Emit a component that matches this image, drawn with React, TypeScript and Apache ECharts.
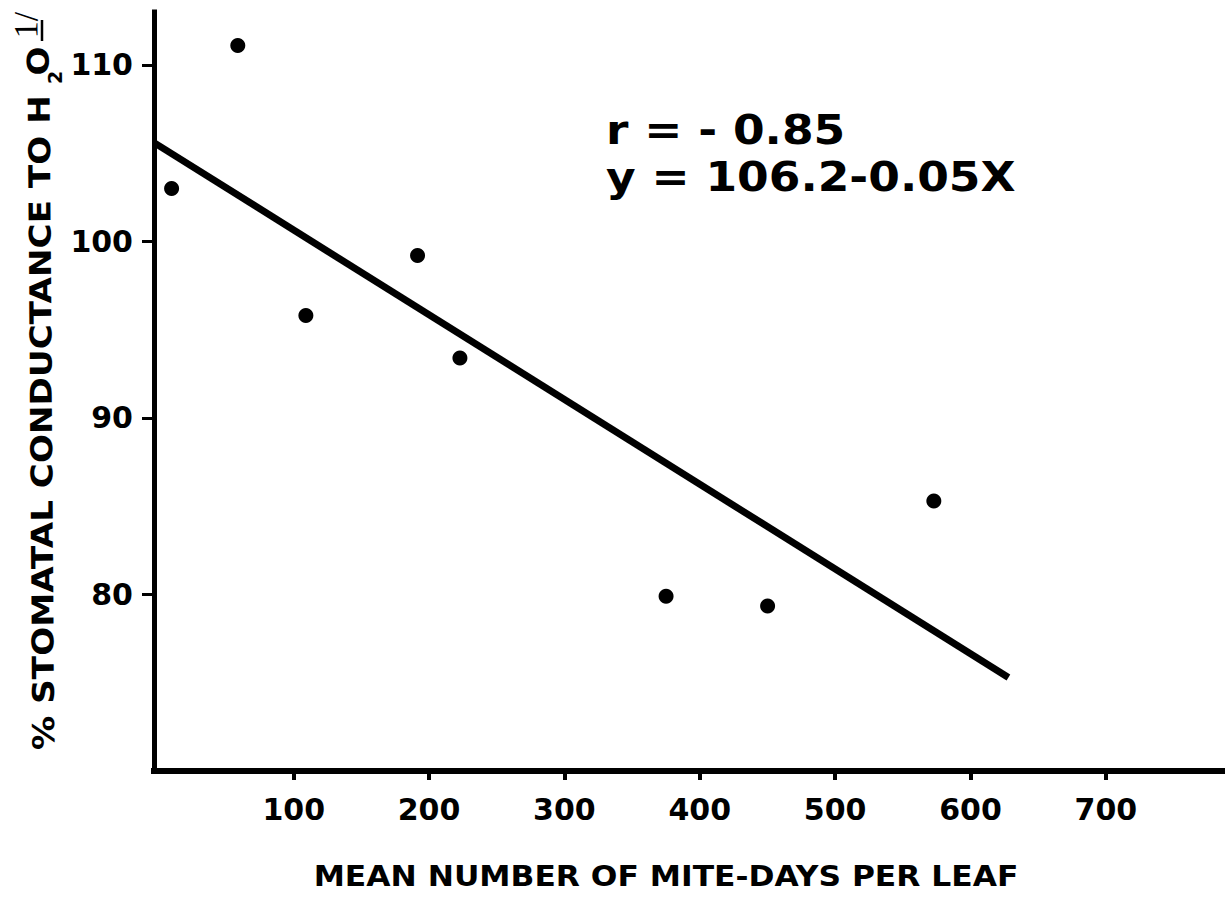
import React, { useEffect, useRef } from "react";
import * as echarts from "echarts";

// ---- data ----
const xTickValues = [100, 200, 300, 400, 500, 600, 700];
const yTickValues = [80, 90, 100, 110];
const miteDays = [9.8, 58.7, 109, 191.5, 222.8, 375.1, 450.1, 572.9];
const conductance = [103.0, 111.1, 95.8, 99.2, 93.4, 79.9, 79.35, 85.3];
const fitX = [-3.2, 628];
const fitY = [105.6, 75.3];
const xTitle = "MEAN NUMBER OF MITE-DAYS PER LEAF";
const yTitleMain = "% STOMATAL CONDUCTANCE TO H";
const yTitleSub = "2";
const yTitleEnd = "O";
const yTitleNote = "1/";
const statR = "r = - 0.85";
const statEq = "y = 106.2-0.05X";

const FONT = '"DejaVu Sans", "Liberation Sans", sans-serif';

function measure(text: string, font: string): number {
  const c = document.createElement("canvas").getContext("2d");
  if (!c) return text.length * 20;
  c.font = font;
  return c.measureText(text).width;
}

export default function App() {
  const ref = useRef<HTMLDivElement>(null);

  useEffect(() => {
    if (!ref.current) return;
    const chart = echarts.init(ref.current, null, { renderer: "svg" });

    const yFont = `bold 30px ${FONT}`;
    const sY = 655 / measure(yTitleMain, yFont);
    const xFont = `bold 29px ${FONT}`;
    const sX = 705 / measure(xTitle, xFont);
    const rot = Math.PI / 2 + 0.0069;

    const scatterData = miteDays.map((x, i) => [x, conductance[i]]);
    const fitData = fitX.map((x, i) => [x, fitY[i]]);

    const labelStyle = {
      fontSize: 30,
      fontWeight: "bold" as const,
      fontFamily: FONT,
      color: "#000",
    };

    chart.setOption({
      animation: false,
      backgroundColor: "#fff",
      grid: { left: 154, right: 0, top: 12, bottom: 127 },
      xAxis: {
        type: "value",
        min: -3.2,
        max: 788,
        axisLine: {
          onZero: false,
          lineStyle: { color: "#000", width: 6, cap: "square" },
        },
        axisTick: {
          customValues: xTickValues,
          length: 9,
          lineStyle: { color: "#000", width: 4 },
        },
        axisLabel: { customValues: xTickValues, margin: 23, ...labelStyle },
        splitLine: { show: false },
      },
      yAxis: {
        type: "value",
        min: 70,
        max: 113,
        axisLine: {
          show: true,
          onZero: false,
          lineStyle: { color: "#000", width: 5, cap: "square" },
        },
        axisTick: {
          show: true,
          customValues: yTickValues,
          length: 12,
          lineStyle: { color: "#000", width: 3 },
        },
        axisLabel: { customValues: yTickValues, margin: 21, ...labelStyle },
        splitLine: { show: false },
      },
      series: [
        {
          type: "line",
          data: fitData,
          symbol: "none",
          lineStyle: { color: "#000", width: 7 },
          z: 2,
        },
        {
          type: "scatter",
          data: scatterData,
          symbol: "circle",
          symbolSize: 15,
          itemStyle: { color: "#000", opacity: 1 },
          z: 3,
        },
      ],
      graphic: [
        {
          type: "text",
          x: 44,
          y: 750,
          rotation: rot,
          scaleX: sY,
          style: {
            text: yTitleMain,
            font: yFont,
            fill: "#000",
            align: "left",
            verticalAlign: "middle",
          },
        },
        {
          type: "text",
          x: 55,
          y: 77.5,
          rotation: rot,
          style: {
            text: yTitleSub,
            font: `bold 19px ${FONT}`,
            fill: "#000",
            align: "center",
            verticalAlign: "middle",
          },
        },
        {
          type: "text",
          x: 38.5,
          y: 61,
          rotation: rot,
          scaleX: sY,
          style: {
            text: yTitleEnd,
            font: yFont,
            fill: "#000",
            align: "center",
            verticalAlign: "middle",
          },
        },
        {
          type: "text",
          x: 26,
          y: 25,
          rotation: rot,
          style: {
            text: yTitleNote,
            font: '34px "Liberation Serif", serif',
            fill: "#000",
            align: "center",
            verticalAlign: "middle",
          },
        },
        {
          type: "line",
          shape: { x1: 42, y1: 20, x2: 42, y2: 41 },
          style: { stroke: "#000", lineWidth: 2.5 },
        },
        {
          type: "text",
          x: 666,
          y: 876,
          scaleX: sX,
          style: {
            text: xTitle,
            font: xFont,
            fill: "#000",
            align: "center",
            verticalAlign: "middle",
          },
        },
        {
          type: "text",
          x: 606,
          y: 130,
          scaleX: 1.11,
          style: {
            text: statR,
            font: `bold 41px ${FONT}`,
            fill: "#000",
            align: "left",
            verticalAlign: "middle",
          },
        },
        {
          type: "text",
          x: 606,
          y: 177,
          scaleX: 1.11,
          style: {
            text: statEq,
            font: `bold 41px ${FONT}`,
            fill: "#000",
            align: "left",
            verticalAlign: "middle",
          },
        },
      ],
    });

    return () => chart.dispose();
  }, []);

  return (
    <div
      ref={ref}
      style={{
        position: "absolute",
        left: 0,
        top: 0,
        width: 1225,
        height: 898,
        background: "#fff",
      }}
    />
  );
}
